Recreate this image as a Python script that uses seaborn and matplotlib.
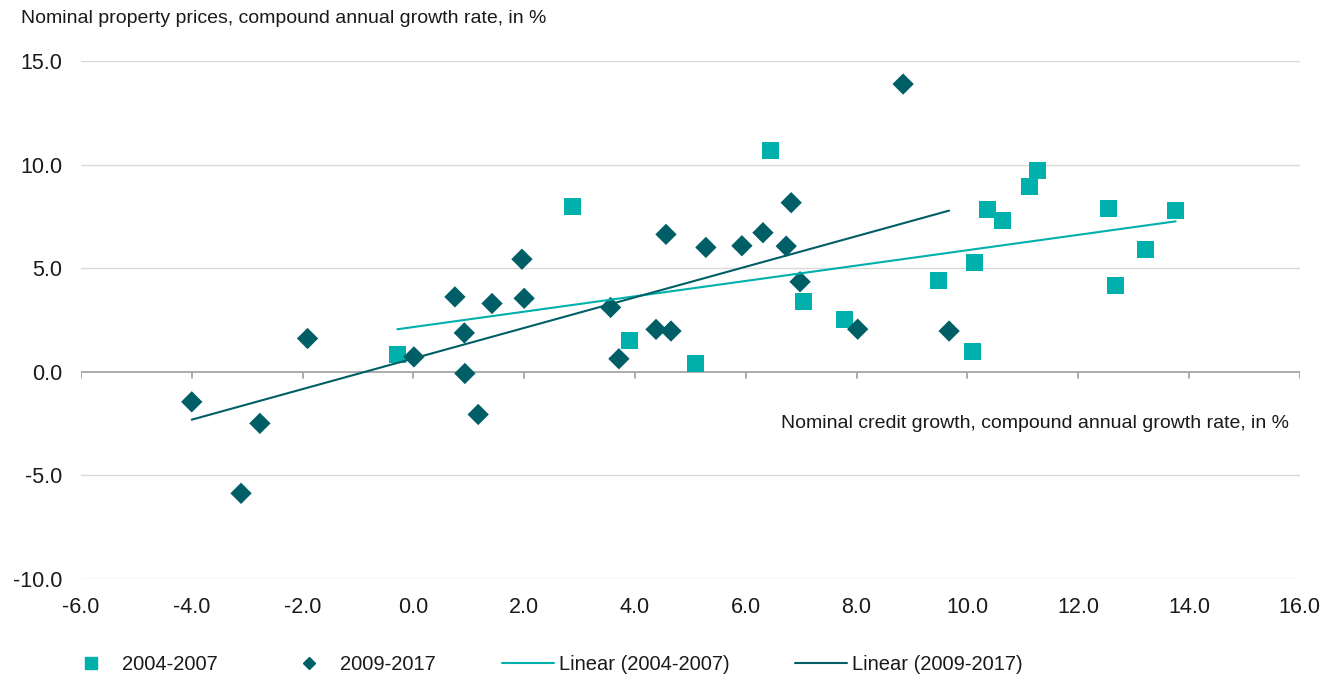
import numpy as np
import pandas as pd
import seaborn as sns
import matplotlib.pyplot as plt
from matplotlib.lines import Line2D

# Dados (crescimento do crédito x preços de imóveis)
credit_0407 = [-0.29, 2.88, 6.45, 7.04, 3.90, 5.10, 7.78, 9.48, 11.26,
               11.13, 10.37, 10.64, 12.55, 13.76, 13.22, 12.67, 10.12, 10.09]
prices_0407 = [0.84, 7.97, 10.71, 3.38, 1.50, 0.41, 2.53, 4.43, 9.71,
               8.94, 7.85, 7.33, 7.89, 7.81, 5.91, 4.15, 5.27, 1.00]

credit_0917 = [-4.00, -2.77, -3.11, -1.91, 0.01, 0.75, 1.42, 0.92, 0.93,
               1.17, 1.96, 2.00, 4.56, 5.28, 5.93, 6.31, 6.82, 6.73,
               6.98, 3.56, 3.71, 4.38, 4.65, 8.02, 8.84, 9.67]
prices_0917 = [-1.45, -2.49, -5.87, 1.61, 0.72, 3.62, 3.30, 1.88, -0.08,
               -2.06, 5.44, 3.55, 6.64, 6.01, 6.09, 6.72, 8.17, 6.07,
               4.35, 3.11, 0.63, 2.05, 1.97, 2.06, 13.90, 1.97]

series_labels = ["2004-2007", "2009-2017"]
x_ticks = np.arange(-6, 17, 2)
y_ticks = np.arange(-10, 16, 5)

light = "#00B0AA"
dark = "#005E66"

df1 = pd.DataFrame({"credit": credit_0407, "prices": prices_0407})
df2 = pd.DataFrame({"credit": credit_0917, "prices": prices_0917})

sns.set_style("white")
plt.rcParams["font.family"] = ["Liberation Sans", "DejaVu Sans"]
plt.rcParams["text.color"] = "#1a1a1a"

fig = plt.figure(figsize=(13.4, 6.81), dpi=100)
ax = fig.add_axes([0.0604, 0.150, 0.9096, 0.760])

# Linhas de grade
for yv in y_ticks:
    if yv != 0:
        ax.axhline(yv, color="#d9d9d9", lw=1.0, zorder=0)

sns.scatterplot(data=df1, x="credit", y="prices", marker="s", s=150,
                color=light, edgecolor="none", ax=ax, zorder=3)
sns.scatterplot(data=df2, x="credit", y="prices", marker="D", s=118,
                color=dark, edgecolor="none", ax=ax, zorder=3)

sns.regplot(data=df1, x="credit", y="prices", scatter=False, ci=None,
            color=light, line_kws={"lw": 1.5, "zorder": 4}, ax=ax)
sns.regplot(data=df2, x="credit", y="prices", scatter=False, ci=None,
            color=dark, line_kws={"lw": 1.5, "zorder": 4}, ax=ax)

ax.set_xlim(-6, 16)
ax.set_ylim(-10, 15)
ax.set_xticks(x_ticks)
ax.set_yticks(y_ticks)
ax.set_xticklabels([f"{v:.1f}" for v in x_ticks], fontsize=15.5, color="#1a1a1a")
ax.set_yticklabels([f"{v:.1f}" for v in y_ticks], fontsize=15.5, color="#1a1a1a")
ax.set_xlabel("")
ax.set_ylabel("")
for sp in ax.spines.values():
    sp.set_visible(False)

# Eixo horizontal em y=0 com marcas
ax.axhline(0, color="#a6a6a6", lw=1.3, zorder=1)
for xv in x_ticks:
    ax.plot([xv, xv], [0, -0.3], color="#a6a6a6", lw=1.3, zorder=1)
ax.tick_params(axis="both", length=0)
ax.tick_params(axis="x", pad=13)
ax.tick_params(axis="y", pad=13.5)

ax.text(15.8, -2.5, "Nominal credit growth, compound annual growth rate, in %",
        ha="right", va="center", fontsize=14)
fig.text(0.016, 0.973, "Nominal property prices, compound annual growth rate, in %",
         ha="left", va="center", fontsize=14)

handles = [
    Line2D([], [], ls="none", marker="s", ms=8, color=light),
    Line2D([], [], ls="none", marker="D", ms=6.5, color=dark),
    Line2D([], [], color=light, lw=1.5),
    Line2D([], [], color=dark, lw=1.5),
]
labels = series_labels + [f"Linear ({s})" for s in series_labels]
fig.legend(handles, labels, loc="center left", bbox_to_anchor=(0.0345, 0.024),
           ncol=4, frameon=False, fontsize=14.5, handlelength=2.6,
           columnspacing=3.25, handletextpad=0.25)

fig.savefig("out.png", dpi=100)
